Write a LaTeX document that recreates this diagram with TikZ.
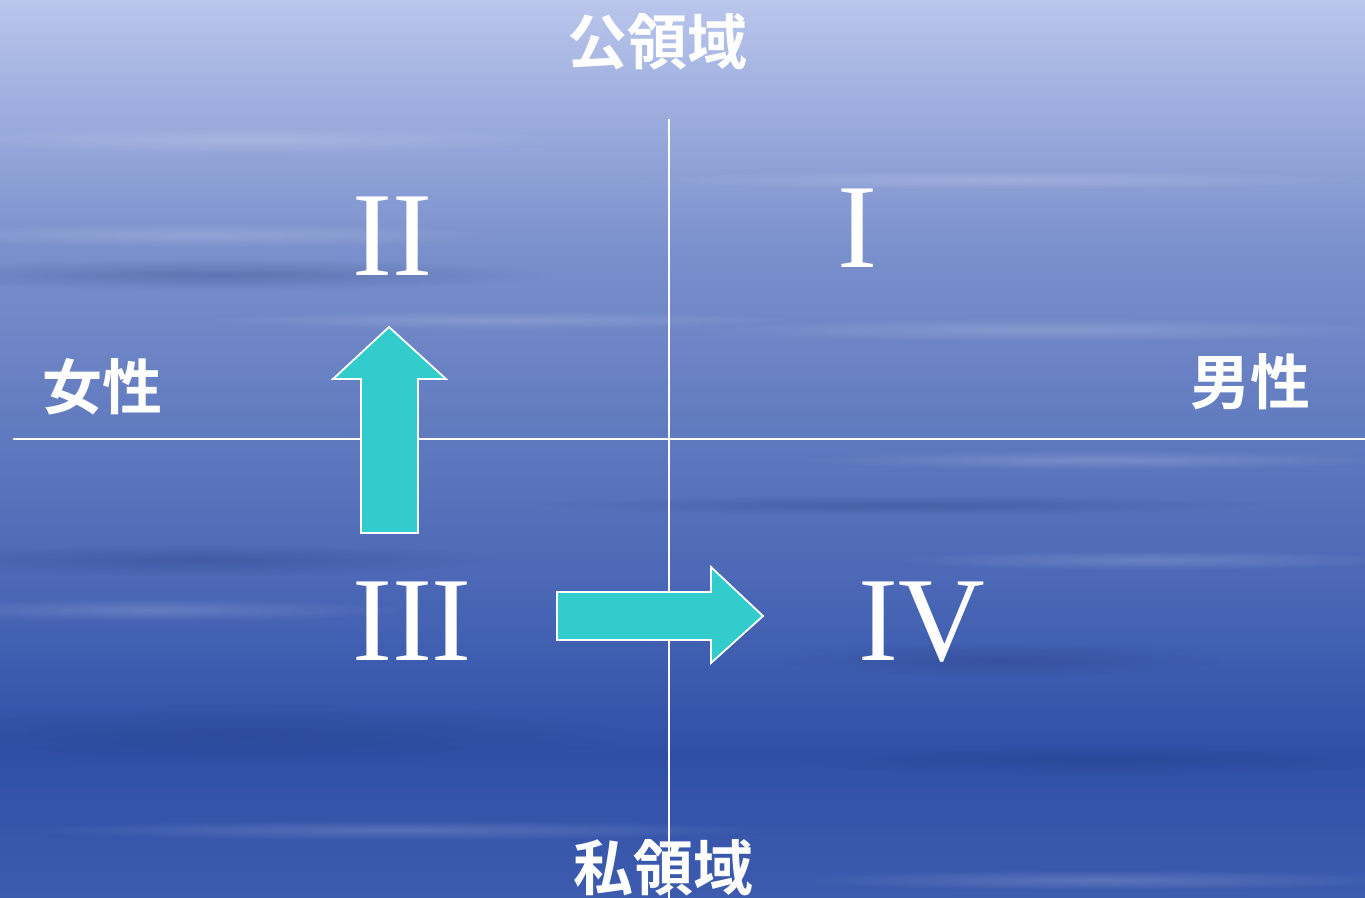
\documentclass[tikz,border=0pt]{standalone}
\usepackage{fontspec}
\usetikzlibrary{fadings}
\newfontfamily\cjk{Noto Sans CJK JP}[BoldFont={* Bold}]
\newfontfamily\romfont{Liberation Serif}
\definecolor{arrowfill}{HTML}{33CCCC}
\definecolor{bgA}{HTML}{BAC6EC}
\definecolor{bgB}{HTML}{A2B1E0}
\definecolor{bgC}{HTML}{7A90CC}
\definecolor{bgD}{HTML}{5E78BE}
\definecolor{bgE}{HTML}{4764B4}
\definecolor{bgF}{HTML}{2F4FA6}
\definecolor{bgG}{HTML}{3E5CAE}
\pgfdeclareverticalshading{seabg}{100bp}{%
  color(0bp)=(bgG); color(25bp)=(bgG); color(33bp)=(bgF); color(41bp)=(bgE);
  color(50bp)=(bgD); color(61bp)=(bgC); color(70bp)=(bgB); color(75bp)=(bgA); color(100bp)=(bgA)}
\tikzfading[name=softblob, inner color=transparent!0, outer color=transparent!100]
\tikzset{
  axis/.style={draw=white, line width=0.8pt},
  bigarrow/.style={fill=arrowfill, draw=white, line width=0.9pt, line join=miter},
  cjklabel/.style={text=white, font=\cjk\bfseries\fontsize{30}{30}\selectfont, inner sep=0pt},
  roman/.style={text=white, font=\romfont\fontsize{60}{60}\selectfont, inner sep=0pt, anchor=base},
  litestreak/.style={fill=white, fill opacity=0.16, path fading=softblob},
  darkstreak/.style={fill=bgF!70!black, fill opacity=0.28, path fading=softblob},
}
\begin{document}
\begin{tikzpicture}[x=0.5pt,y=-0.5pt]
\useasboundingbox (0,0) rectangle (1365,898);
\shade[shading=seabg] (0,0) rectangle (1365,898);
% soft horizontal streaks of the water texture
\fill[litestreak] (250,140) ellipse [x radius=320, y radius=14];
\fill[litestreak] (200,235) ellipse [x radius=300, y radius=12];
\fill[litestreak] (1000,180) ellipse [x radius=380, y radius=10];
\fill[litestreak] (1050,330) ellipse [x radius=360, y radius=12];
\fill[litestreak] (500,320) ellipse [x radius=300, y radius=9];
\fill[litestreak] (1100,460) ellipse [x radius=300, y radius=10];
\fill[litestreak] (150,610) ellipse [x radius=260, y radius=12];
\fill[litestreak] (1150,560) ellipse [x radius=260, y radius=10];
\fill[litestreak] (400,830) ellipse [x radius=380, y radius=10];
\fill[litestreak] (1100,880) ellipse [x radius=300, y radius=10];
\fill[darkstreak] (220,275) ellipse [x radius=330, y radius=16];
\fill[darkstreak] (200,560) ellipse [x radius=300, y radius=16];
\fill[darkstreak] (250,735) ellipse [x radius=380, y radius=30];
\fill[darkstreak] (1000,660) ellipse [x radius=220, y radius=18];
\fill[darkstreak] (900,505) ellipse [x radius=360, y radius=10];
\fill[darkstreak] (1100,760) ellipse [x radius=300, y radius=16];
% axes
\coordinate (vtop) at (669,119);
\coordinate (vbot) at (669,898);
\coordinate (hleft) at (13,439);
\coordinate (hright) at (1365,439);
\draw[axis] (vtop) -- (vbot);
\draw[axis] (hleft) -- (hright);
% arrows
\draw[bigarrow] (361,533) -- (361,379) -- (333,379) -- (389,327) -- (446,379) -- (418,379) -- (418,533) -- cycle;
\draw[bigarrow] (557,592) -- (711,592) -- (711,567) -- (763,616) -- (711,663) -- (711,640) -- (557,640) -- cycle;
% labels
\node[cjklabel] (pub) at (657,42) {公領域};
\node[cjklabel] (priv) at (663,868) {私領域};
\node[cjklabel] (fem) at (102,387) {女性};
\node[cjklabel] (male) at (1250,382) {男性};
\node[roman] (q2) at (392,276) {II};
\node[roman] (q1) at (857,268) {I};
\node[roman] (q3) at (412,660) {III};
\node[roman] (q4) at (922,660) {IV};
\end{tikzpicture}
\end{document}
